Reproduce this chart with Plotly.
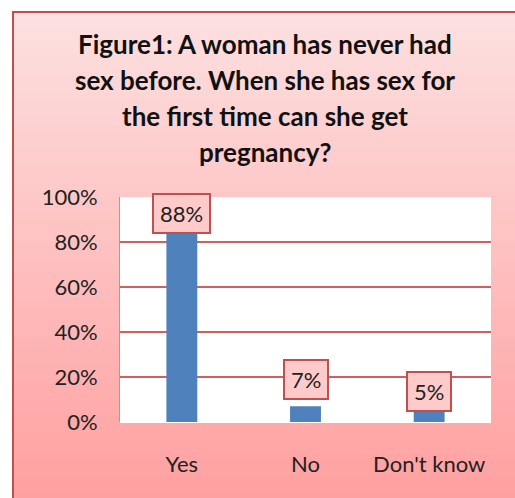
import plotly.graph_objects as go

categories = ["Yes", "No", "Don't know"]
values = [0.88, 0.07, 0.05]
tick_vals = [0, 0.2, 0.4, 0.6, 0.8, 1.0]
tick_text = ["0%", "20%", "40%", "60%", "80%", "100%"]
title_lines = ["Figure1: A woman has never had",
               "sex before. When she has sex for",
               "the first time can she get",
               "pregnancy?"]

W, H = 515, 498
L, R, T, B = 120, 24, 197, 76
pw, ph = W - L - R, H - T - B

def px_to_paper_x(px):
    return (px - L) / pw

def px_to_paper_y(py):
    return (H - B - py) / ph

FONT = "Lato, Open Sans, sans-serif"

fig = go.Figure()
fig.add_trace(go.Bar(x=categories, y=values, marker=dict(color="#4f81bd", line=dict(width=0)),
                     hoverinfo="skip"))

shapes = []
top_c = (253, 224, 224)
bot_c = (255, 160, 160)
y_start, y_end = 12, 498
n = 90
for i in range(n):
    t = i / (n - 1)
    c = tuple(round(top_c[k] + (bot_c[k] - top_c[k]) * t) for k in range(3))
    y0 = y_start + (y_end - y_start) * i / n
    y1 = y_start + (y_end - y_start) * (i + 1) / n + 0.8
    shapes.append(dict(type="rect", xref="paper", yref="paper", layer="below",
                       x0=px_to_paper_x(14), x1=px_to_paper_x(530),
                       y0=px_to_paper_y(y0), y1=px_to_paper_y(min(y1, 510)),
                       fillcolor="rgb(%d,%d,%d)" % c, line=dict(width=0)))
shapes.append(dict(type="rect", xref="paper", yref="paper", layer="below",
                   x0=0, x1=1, y0=0, y1=1, fillcolor="white", line=dict(width=0)))
shapes.append(dict(type="rect", xref="paper", yref="paper", layer="above",
                   x0=px_to_paper_x(13), x1=px_to_paper_x(540),
                   y0=px_to_paper_y(540), y1=px_to_paper_y(12),
                   fillcolor="rgba(0,0,0,0)", line=dict(color="#c0504d", width=2)))

label_shift = [11, 27, 19]
annotations = []
for c, v, s in zip(categories, values, label_shift):
    annotations.append(dict(x=c, y=v, xref="x", yref="y", text="%d%%" % round(v * 100),
                            showarrow=False, yanchor="middle", yshift=s, height=25,
                            font=dict(family=FONT, size=22, color="#222222"),
                            bgcolor="#ffcaca", bordercolor="#c0504d", borderwidth=2, borderpad=6))
for i, line in enumerate(title_lines):
    annotations.append(dict(x=px_to_paper_x(265), y=px_to_paper_y(44 + 36 * i),
                            xref="paper", yref="paper",
                            text="<b>" + line + "</b>", showarrow=False,
                            xanchor="center", yanchor="middle",
                            font=dict(family=FONT, size=26, color="#111111")))

fig.update_layout(
    width=W, height=H,
    margin=dict(l=L, r=R, t=T, b=B),
    paper_bgcolor="white", plot_bgcolor="white",
    showlegend=False, bargap=0.75,
    shapes=shapes, annotations=annotations,
    xaxis=dict(showgrid=False, showline=False, ticks="", ticklabelstandoff=27,
               tickfont=dict(family=FONT, size=22, color="#222222")),
    yaxis=dict(range=[0, 1], tickvals=tick_vals, ticktext=tick_text,
               showgrid=True, gridcolor="#d0605d", gridwidth=1.5,
               zeroline=True, zerolinecolor="white", zerolinewidth=1,
               showline=True, linecolor="#a0a0a0", linewidth=1, ticks="",
               ticklabelstandoff=17,
               tickfont=dict(family=FONT, size=22, color="#222222")),
)

fig.write_html("out.html", config={"displayModeBar": False},
               post_script="document.body.style.margin='0';document.body.style.overflow='hidden';")
